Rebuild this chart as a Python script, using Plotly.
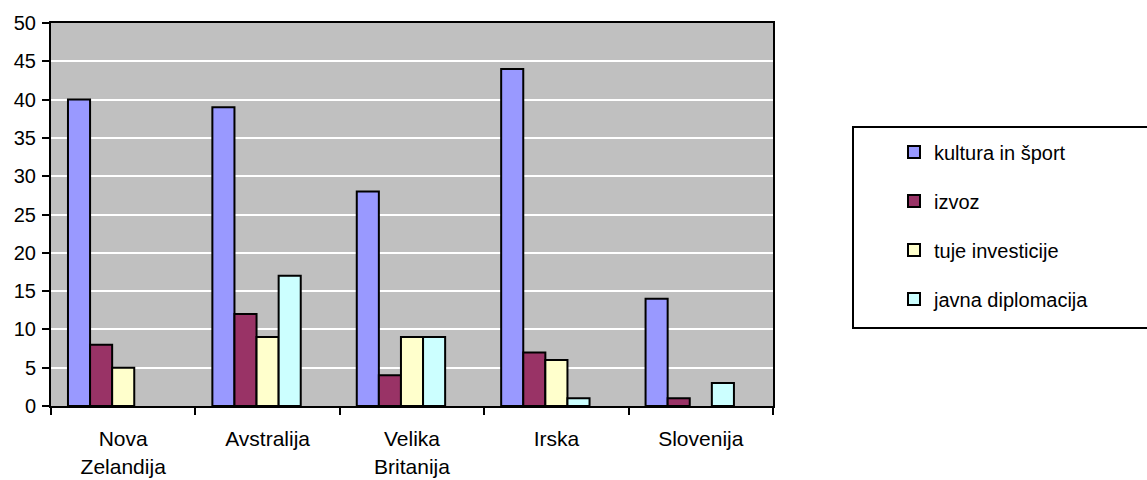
import plotly.graph_objects as go

categories = ["Nova<br>Zelandija", "Avstralija", "Velika<br>Britanija", "Irska", "Slovenija"]
series_names = ["kultura in šport", "izvoz", "tuje investicije", "javna diplomacija"]
kultura = [40, 39, 28, 44, 14]
izvoz = [8, 12, 4, 7, 1]
investicije = [5, 9, 9, 6, None]
diplomacija = [None, 17, 9, 1, 3]
colors = ["#9999FF", "#993366", "#FFFFCC", "#CCFFFF"]
y_ticks = [0, 5, 10, 15, 20, 25, 30, 35, 40, 45, 50]

FONT = "Liberation Sans, Arial, sans-serif"

fig = go.Figure()
for i, (name, vals) in enumerate(zip(series_names, [kultura, izvoz, investicije, diplomacija])):
    fig.add_trace(go.Bar(
        x=categories, y=vals, name=name, legendgroup=f"g{i}",
        marker=dict(color=colors[i], line=dict(color="black", width=2)),
    ))
# empty fifth slot (the original chart reserves space for a fifth series)
fig.add_trace(go.Bar(x=categories, y=[None] * 5, showlegend=False, hoverinfo="skip"))

fig.update_layout(
    width=1147, height=480,
    margin=dict(l=51, r=374, t=23, b=74, autoexpand=False),
    paper_bgcolor="white", plot_bgcolor="#C0C0C0",
    barmode="group", bargap=0.235, bargroupgap=0,
    font=dict(family=FONT, size=20, color="black"),
    showlegend=True,
    legend=dict(
        x=(894 - 51) / 722, xanchor="left", y=(406 - 132.5) / 383, yanchor="top",
        bgcolor="rgba(0,0,0,0)", borderwidth=0,
        traceorder="grouped", tracegroupgap=20,
        font=dict(family=FONT, size=20, color="black"),
        itemwidth=30,
    ),
    shapes=[dict(type="rect", xref="paper", yref="paper",
                 x0=(853 - 51) / 722, x1=(1160 - 51) / 722,
                 y0=(406 - 328) / 383, y1=(406 - 127) / 383,
                 line=dict(color="black", width=2), fillcolor="rgba(0,0,0,0)")],
)
fig.update_xaxes(
    showline=True, linecolor="black", linewidth=2, mirror=True,
    ticks="outside", ticklen=7, tickwidth=2, tickcolor="black",
    tickson="boundaries", showgrid=False, automargin=False,
    ticklabelstandoff=13, tickfont=dict(size=21),
)
fig.update_yaxes(
    range=[0, 50], tickvals=y_ticks, ticktext=[str(v) for v in y_ticks],
    showline=True, linecolor="black", linewidth=2, mirror=True,
    ticks="outside", ticklen=7, tickwidth=2, tickcolor="black",
    showgrid=True, gridcolor="white", gridwidth=2, automargin=False,
    zeroline=False, ticklabelstandoff=2,
)

fig.write_html("out.html")
